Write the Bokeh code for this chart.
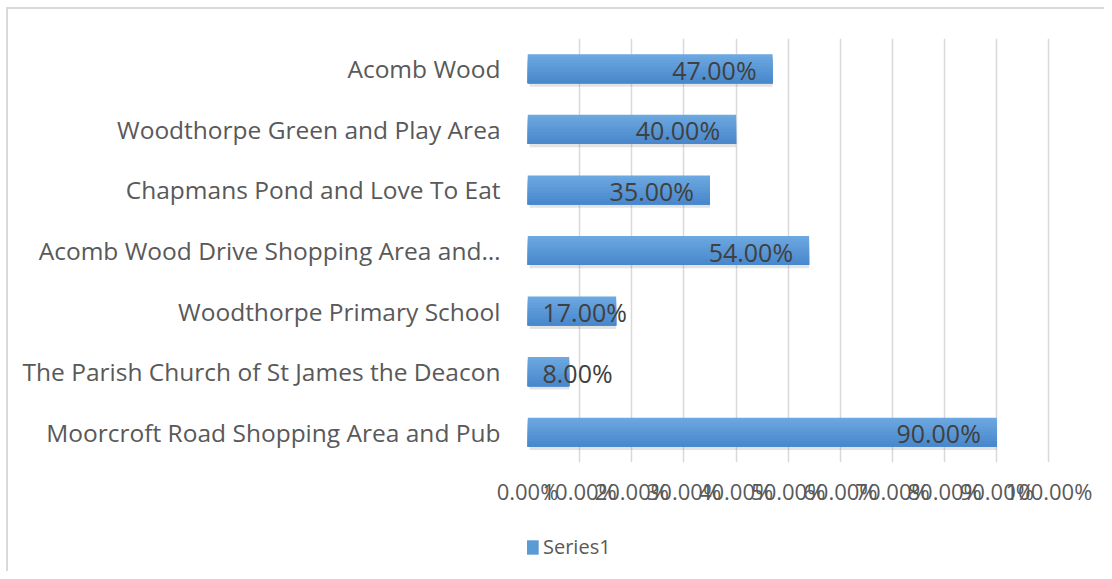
from bokeh.plotting import figure
from bokeh.layouts import column
from bokeh.models import (FactorRange, Range1d, FixedTicker, NumeralTickFormatter,
                          ColumnDataSource, Legend, LegendItem, InlineStyleSheet)
from bokeh.transform import dodge
from bokeh.core.properties import value
from bokeh.embed import file_html
from bokeh.resources import INLINE

# ---- data (top to bottom as shown) ----
categories = [
    "Acomb Wood",
    "Woodthorpe Green and Play Area",
    "Chapmans Pond and Love To Eat",
    "Acomb Wood Drive Shopping Area and\u2026",
    "Woodthorpe Primary School",
    "The Parish Church of St James the Deacon",
    "Moorcroft Road Shopping Area and Pub",
]
values = [0.47, 0.40, 0.35, 0.54, 0.17, 0.08, 0.90]
x_ticks = [0.0, 0.1, 0.2, 0.3, 0.4, 0.5, 0.6, 0.7, 0.8, 0.9, 1.0]
series_name = "Series1"

FONT = "Open Sans"
W = 1104
H_MAIN, H_LEG = 520, 51
ML, MR, MT, MB = 527, 54, 38, 58
FRAME_W = W - ML - MR
BAR_COLOR = "#5b9bd5"

factors = categories[::-1]  # bokeh draws first factor at bottom

p = figure(width=W, height=H_MAIN, output_backend="svg", toolbar_location=None,
           y_range=FactorRange(*factors, range_padding=0),
           x_range=Range1d(0, 1.003),
           min_border_left=ML, min_border_right=MR,
           min_border_top=MT, min_border_bottom=MB)
p.outline_line_color = None
p.background_fill_color = "white"
p.border_fill_color = "white"

# grid
p.xgrid.grid_line_color = "#d9d9d9"
p.xgrid.grid_line_width = 1.5
p.xgrid.ticker = FixedTicker(ticks=x_ticks)
p.ygrid.grid_line_color = None

# axes
p.xaxis.ticker = FixedTicker(ticks=x_ticks)
p.xaxis.formatter = NumeralTickFormatter(format="0.00%")
p.xaxis.axis_line_color = None
p.xaxis.major_tick_line_color = None
p.xaxis.minor_tick_line_color = None
p.xaxis.major_label_text_font = FONT
p.xaxis.major_label_text_font_size = "22px"
p.xaxis.major_label_text_color = "#595959"
p.xaxis.major_label_standoff = 7

p.yaxis.axis_line_color = None
p.yaxis.major_tick_line_color = None
p.yaxis.major_label_text_font = FONT
p.yaxis.major_label_text_font_size = "24.5px"
p.yaxis.major_label_text_color = "#595959"
p.yaxis.major_label_standoff = 21

src = ColumnDataSource(dict(cat=categories, val=values))

BAR_H = 0.48
# shadow
p.hbar(y=dodge("cat", -0.055, range=p.y_range), right="val", left=0.004, height=BAR_H,
       source=src, fill_color="#7f7f7f", fill_alpha=0.22, line_color=None)
# gradient bars (light top -> darker bottom): each strip runs from its top to the bar bottom
n_strips = 10
top_col = (0x6d, 0xa9, 0xe1)
bot_col = (0x47, 0x86, 0xcb)
strip_h = BAR_H / n_strips
for i in range(n_strips):
    t = (i + 0.5) / n_strips
    c = tuple(int(round(top_col[k] + (bot_col[k] - top_col[k]) * t)) for k in range(3))
    col = "#%02x%02x%02x" % c
    top = BAR_H / 2 - i * strip_h
    bottom = -BAR_H / 2
    p.hbar(y=dodge("cat", (top + bottom) / 2, range=p.y_range), right="val", left=0,
           height=top - bottom, source=src, fill_color=col, line_color=None)

# data labels: inside end, moved to the left edge when they don't fit
LABEL_W = 85
lab_x, lab_off, lab_align, lab_txt = [], [], [], []
for v in values:
    lab_txt.append("%.2f%%" % (v * 100))
    if v * FRAME_W - 16 - LABEL_W < 15:
        lab_x.append(0.0); lab_off.append(15); lab_align.append("left")
    else:
        lab_x.append(v); lab_off.append(-16); lab_align.append("right")
lsrc = ColumnDataSource(dict(cat=categories, x=lab_x, off=lab_off, align=lab_align, txt=lab_txt))
p.text(x="x", y="cat", text="txt", x_offset="off", text_align="align", source=lsrc,
       text_baseline="middle", y_offset=1, text_font=value(FONT), text_font_size="25px",
       text_color="#404040")

# legend strip below the chart (its frame is aligned with the chart's frame)
lp = figure(width=W, height=H_LEG, output_backend="svg", toolbar_location=None,
            x_range=Range1d(0, 1), y_range=Range1d(0, 1),
            x_axis_type=None, y_axis_type=None,
            min_border_left=ML, min_border_right=MR, min_border_top=0, min_border_bottom=0)
lp.outline_line_color = None
lp.grid.grid_line_color = None
# a sample bar kept outside the visible range: it only supplies the legend swatch
legend_r = lp.hbar(y=[-10], right=[-10], left=[-11], height=0.5,
                   fill_color=BAR_COLOR, line_color=None)
legend = Legend(items=[LegendItem(label=series_name, renderers=[legend_r])],
                location=(-5, 11), orientation="horizontal",
                glyph_width=18, glyph_height=18, label_standoff=3, label_height=18,
                padding=0, margin=0, spacing=0,
                label_text_font=FONT, label_text_font_size="20px",
                label_text_color="#595959",
                border_line_color=None, background_fill_alpha=0)
lp.add_layout(legend, "center")

layout = column(p, lp, spacing=0)
layout.stylesheets = [InlineStyleSheet(css=(
    ":host::after { content: ''; position: absolute; left: 6px; top: 7px; right: 0; bottom: 0;"
    " border-left: 2px solid #d9d9d9; border-top: 2px solid #d9d9d9; pointer-events: none; }"))]

open("out.html", "w").write(file_html(layout, INLINE))
